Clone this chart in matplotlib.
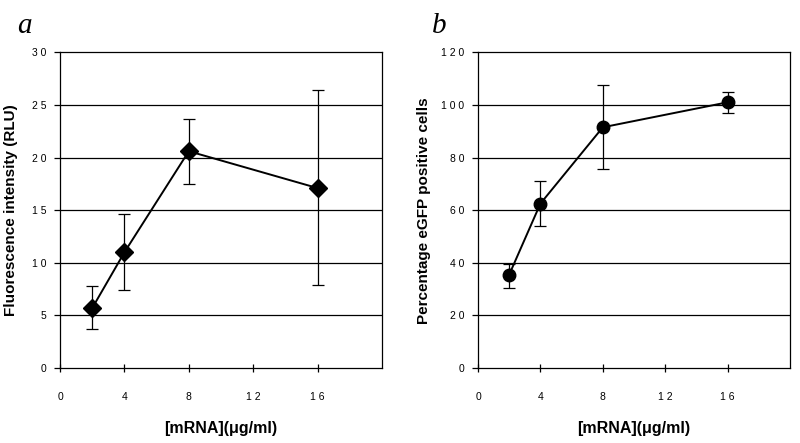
import numpy as np
import matplotlib.pyplot as plt

plt.rcParams['font.family'] = ['Liberation Sans', 'DejaVu Sans']

# dose of mRNA (ug/ml)
dose = [2, 4, 8, 16]

# panel a: fluorescence intensity (RLU)
fluor = [5.7, 11.0, 20.6, 17.1]
fluor_lo = [3.7, 7.4, 17.5, 7.9]
fluor_hi = [7.8, 14.6, 23.7, 26.4]

# panel b: percentage eGFP positive cells
egfp = [35.5, 62.5, 91.5, 101.0]
egfp_lo = [30.5, 54.0, 75.5, 97.0]
egfp_hi = [39.5, 71.0, 107.5, 105.0]

xticks = [0, 4, 8, 12, 16]
xticklabels = ['0', '4', '8', '1 2', '1 6']
yticks_a = [0, 5, 10, 15, 20, 25, 30]
yticklabels_a = ['0', '5', '1 0', '1 5', '2 0', '2 5', '3 0']
yticks_b = [0, 20, 40, 60, 80, 100, 120]
yticklabels_b = ['0', '2 0', '4 0', '6 0', '8 0', '1 0 0', '1 2 0']

fig = plt.figure(figsize=(8, 4.43), dpi=100)
ax_a = fig.add_axes([0.075, 0.169, 0.4025, 0.713])
ax_b = fig.add_axes([0.5975, 0.169, 0.39, 0.713])


def style(ax, y, lo, hi, marker, ms, yticks, ylabels, ylabel, lpad):
    y = np.array(y)
    yerr = [y - np.array(lo), np.array(hi) - y]
    ax.errorbar(dose, y, yerr=yerr, color='black', ecolor='black', lw=1.4,
                elinewidth=0.9, capsize=4, capthick=0.9,
                marker=marker, ms=ms, mfc='black', mec='black', zorder=3)
    ax.set_xlim(0, 20)
    ax.set_ylim(yticks[0], yticks[-1])
    ax.set_xticks(xticks)
    ax.set_xticklabels(xticklabels, fontsize=7.5)
    ax.set_yticks(yticks)
    ax.set_yticklabels(ylabels, fontsize=7.5)
    for yy in yticks[1:-1]:
        ax.axhline(yy, color='black', lw=0.9, zorder=1)
    for s in ax.spines.values():
        s.set_linewidth(0.9)
    ax.tick_params(axis='x', direction='inout', length=6, width=0.9, pad=14)
    ax.tick_params(axis='y', direction='out', length=4, width=0.9, pad=6)
    ax.set_xlabel('[mRNA](\u03bcg/ml)', fontsize=11.5, fontweight='bold', labelpad=14)
    ax.set_ylabel(ylabel, fontsize=11, fontweight='bold', labelpad=lpad)


style(ax_a, fluor, fluor_lo, fluor_hi, 'D', 9, yticks_a, yticklabels_a,
      'Fluorescence intensity (RLU)', 10)
style(ax_b, egfp, egfp_lo, egfp_hi, 'o', 9, yticks_b, yticklabels_b,
      'Percentage eGFP positive cells', 7)

fig.text(0.022, 0.97, 'a', fontsize=21, style='italic', family='Liberation Serif', va='top')
fig.text(0.54, 0.97, 'b', fontsize=21, style='italic', family='Liberation Serif', va='top')

fig.savefig('out.png', dpi=100)
